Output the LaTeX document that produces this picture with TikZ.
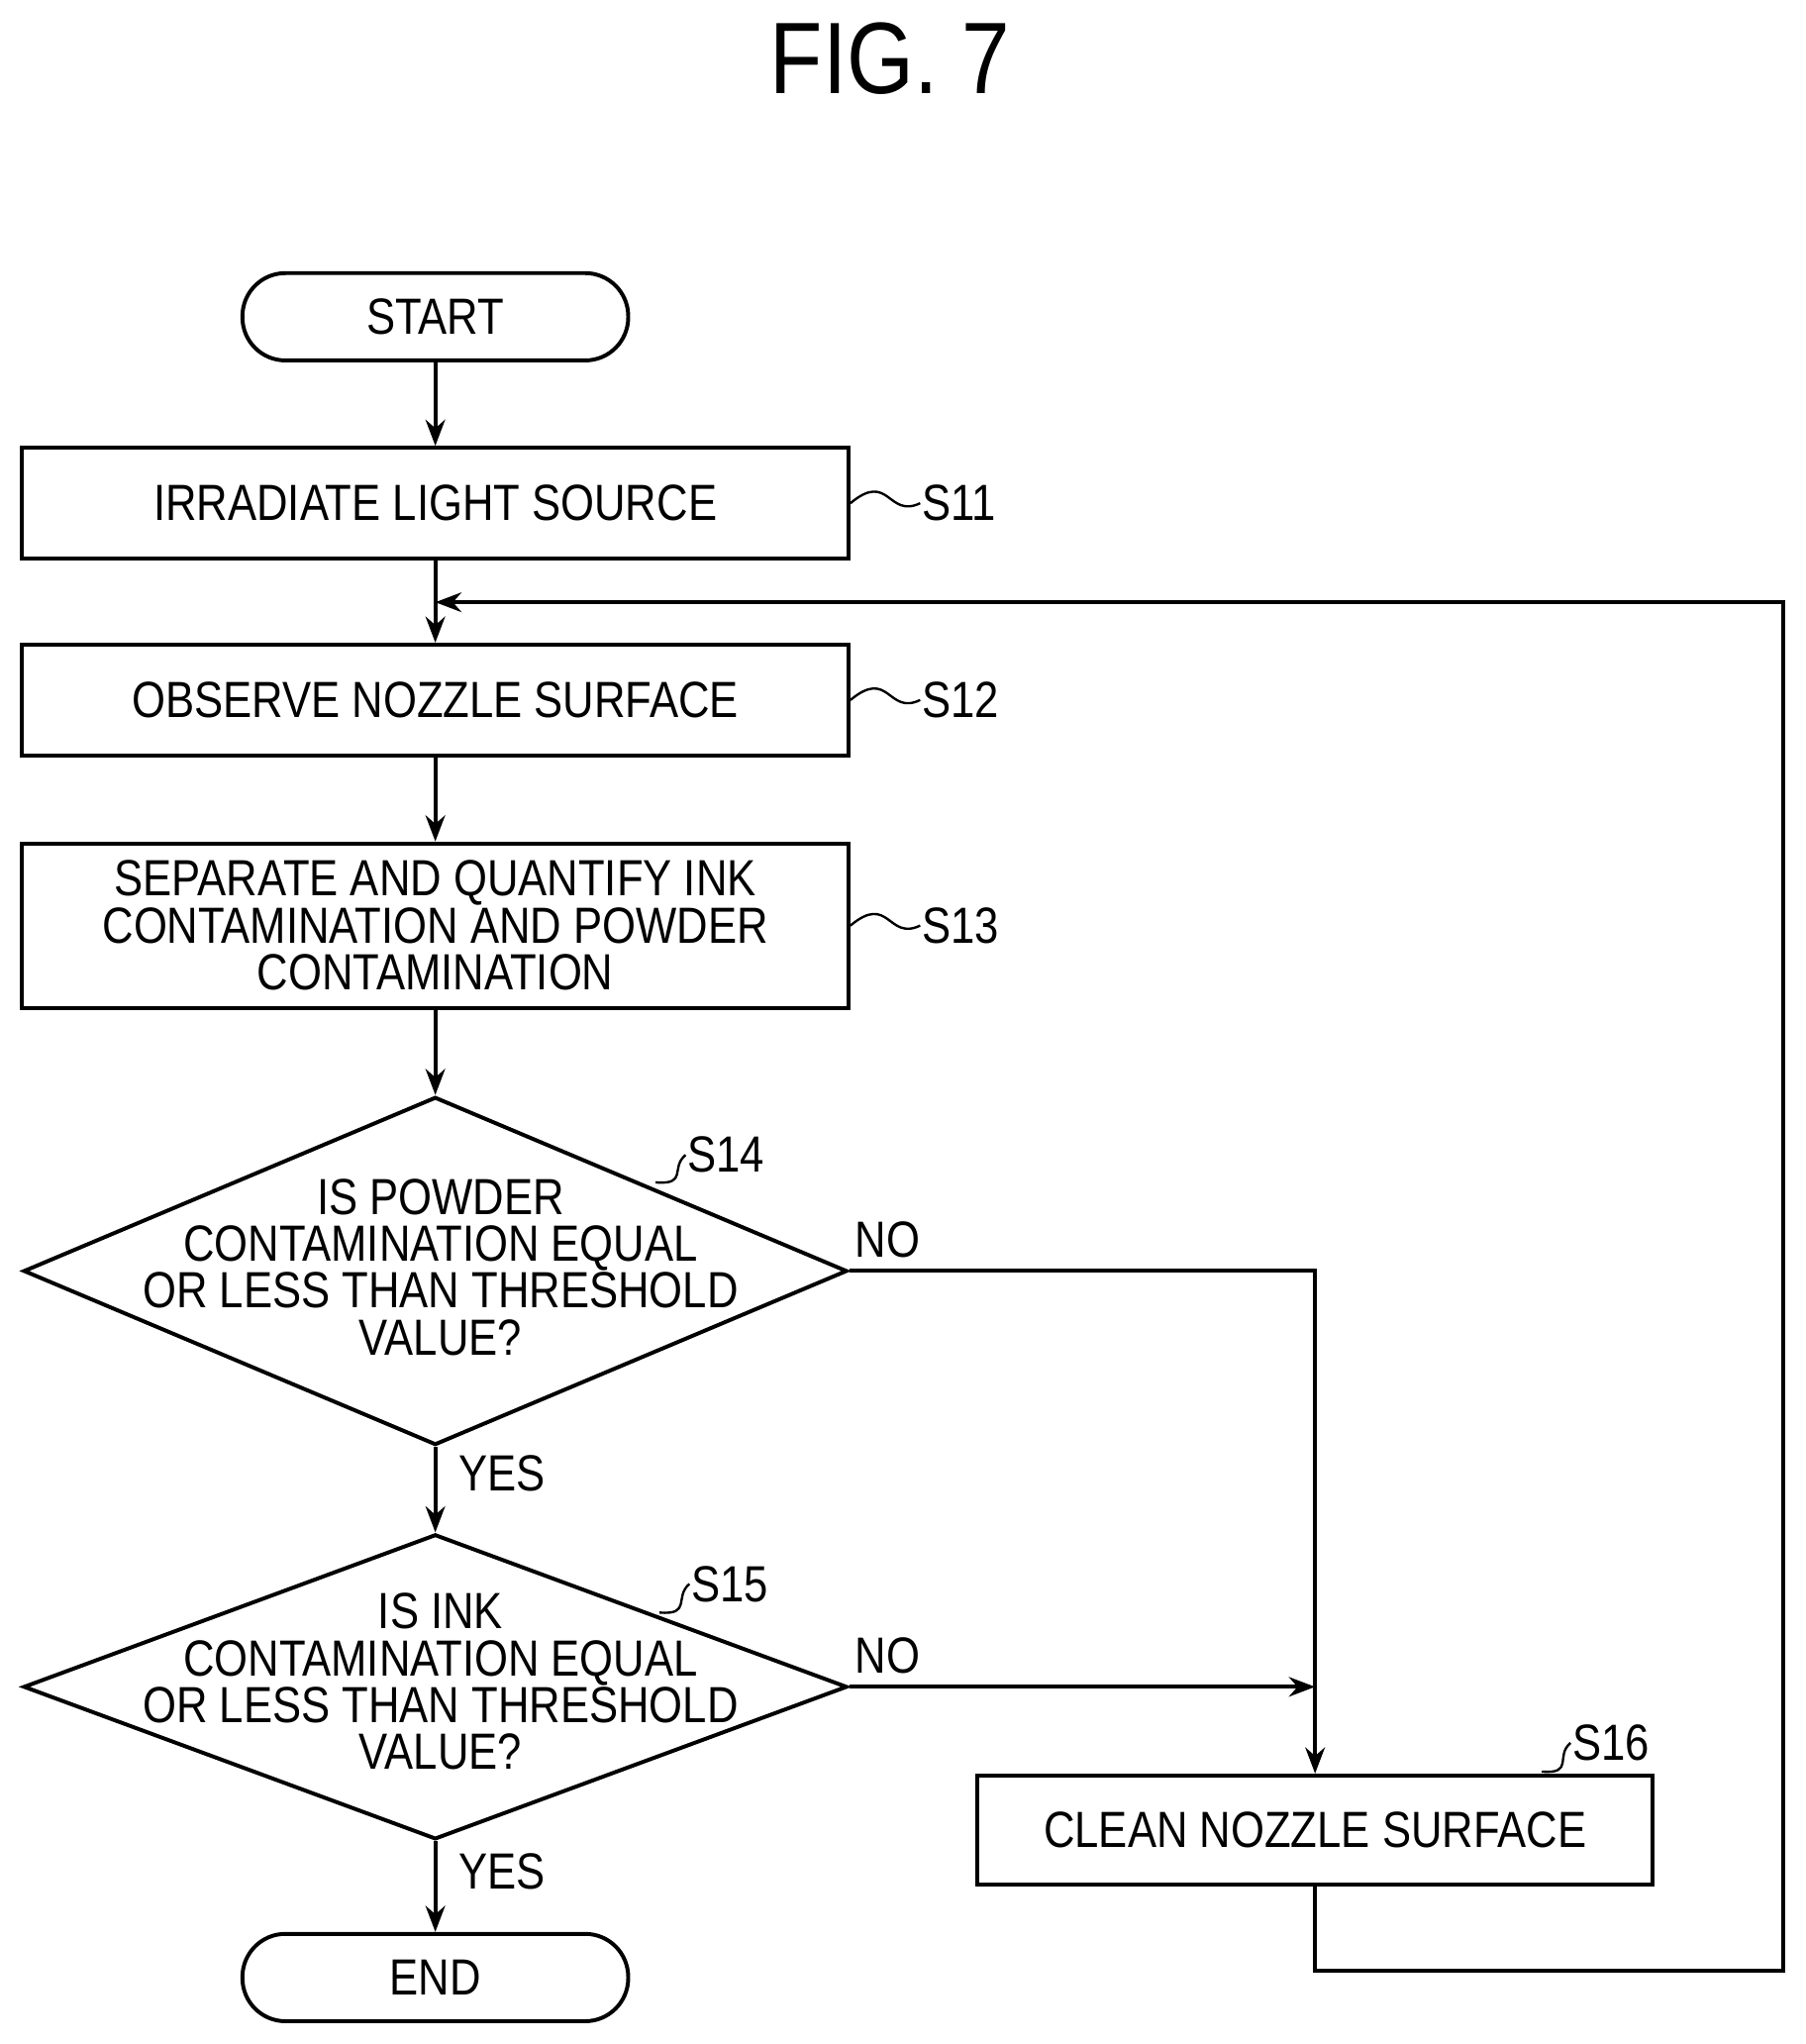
\documentclass[tikz,border=0pt]{standalone}
\usepackage{fontspec}
\setmainfont{Liberation Sans}[FakeStretch=0.85]
\usetikzlibrary{shapes.geometric,arrows.meta}
\begin{document}
\begin{tikzpicture}[x=1pt,y=-1pt,line width=3pt,
  every node/.style={font=\fontsize{39}{36}\selectfont,align=center},
  box/.style={draw,minimum width=634pt,minimum height=85pt,inner sep=0pt},
  term/.style={draw,rounded corners=33pt,minimum width=296pt,minimum height=67pt,inner sep=0pt},
  arr/.style={-{Stealth[length=20pt,width=15pt]}},
  lbl/.style={inner sep=0pt}]
\useasboundingbox (0,0) rectangle (1385,1568);
\node[lbl,font=\fontsize{78}{78}\selectfont] (title) at (683,45) {FIG. 7};
\node[term] (start) at (334,243) {START};
\node[box] (s11) at (334,386) {IRRADIATE LIGHT SOURCE};
\node[box] (s12) at (334,537) {OBSERVE NOZZLE SURFACE};
\node[box,minimum height=126pt] (s13) at (334,710) {SEPARATE AND QUANTIFY INK\\CONTAMINATION AND POWDER\\CONTAMINATION};
\node[draw,diamond,minimum width=632pt,minimum height=267pt,inner sep=0pt,aspect=2.37] (s14) at (334,975) {};
\node[lbl] (t14) at (338,972) {IS POWDER\\CONTAMINATION EQUAL\\OR LESS THAN THRESHOLD\\VALUE?};
\node[draw,diamond,minimum width=632pt,minimum height=234pt,inner sep=0pt,aspect=2.7] (s15) at (334,1294) {};
\node[lbl] (t15) at (338,1290) {IS INK\\CONTAMINATION EQUAL\\OR LESS THAN THRESHOLD\\VALUE?};
\node[draw,minimum width=518pt,minimum height=84pt,inner sep=0pt] (s16) at (1009,1404) {CLEAN NOZZLE SURFACE};
\node[term] (end) at (334,1517) {END};
% step labels
\node[lbl,anchor=west] (l11) at (706,386) {S11};
\node[lbl,anchor=west] (l12) at (706,537) {S12};
\node[lbl,anchor=west] (l13) at (706,710) {S13};
\node[lbl,anchor=west] (l14) at (526,886) {S14};
\node[lbl,anchor=west] (l15) at (529,1215) {S15};
\node[lbl,anchor=west] (l16) at (1205,1337) {S16};
\foreach \b/\l in {s11/l11,s12/l12,s13/l13}
  \draw[line width=1.8pt] (\b.east) .. controls +(30,-25) and +(-25,12) .. (\l.west);
\coordinate (q14) at (503,907);
\coordinate (q15) at (506,1237);
\coordinate (q16) at (1183,1359);
\draw[line width=1.8pt] (q14) .. controls +(25,2) and +(-12,10) .. (l14.west);
\draw[line width=1.8pt] (q15) .. controls +(25,2) and +(-12,10) .. (l15.west);
\draw[line width=1.8pt] (q16) .. controls +(25,2) and +(-12,10) .. (l16.west);
% YES/NO
\node[lbl] (no1) at (681,951) {NO};
\node[lbl] (no2) at (681,1270) {NO};
\node[lbl] (yes1) at (385,1130) {YES};
\node[lbl] (yes2) at (385,1436) {YES};
% connectors
\draw[arr] (start) -- (s11);
\draw[arr] (s11) -- (s12);
\draw[arr] (s12) -- (s13);
\draw[arr] (s13) -- (s14);
\draw[arr] (s14) -- (s15);
\draw[arr] (s15) -- (end);
\coordinate (j1) at (1009,975);
\coordinate (j2) at (1009,1294);
\draw[arr] (s14.east) -- (j1) -- (s16.north);
\draw[arr] (s15.east) -- (j2);
\coordinate (c1) at (1009,1512);
\coordinate (c2) at (1368,1512);
\coordinate (c3) at (1368,462);
\coordinate (c4) at (334,462);
\draw[arr] (s16.south) -- (c1) -- (c2) -- (c3) -- (c4);
\end{tikzpicture}
\end{document}
